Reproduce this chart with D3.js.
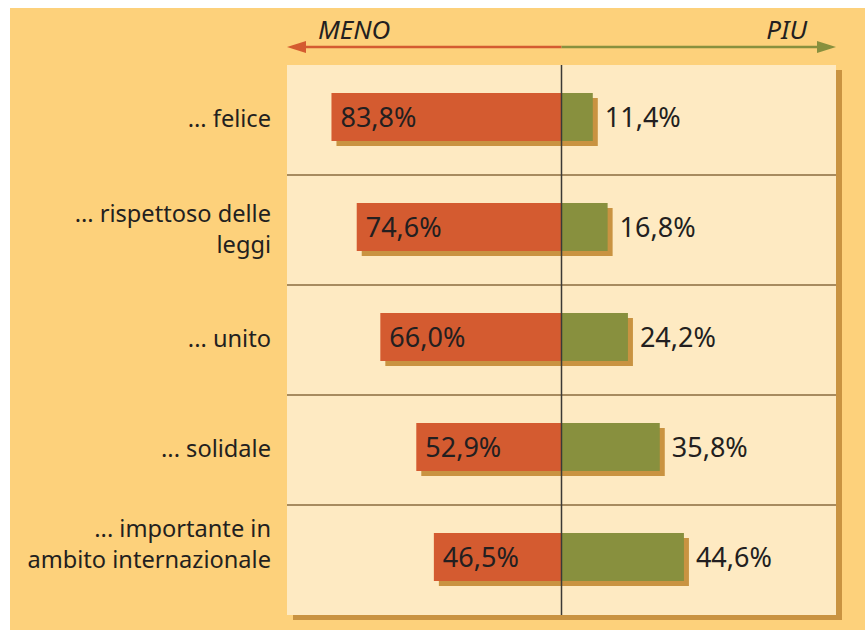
<!DOCTYPE html>
<html>
<head>
<meta charset="utf-8">
<script src="https://cdn.jsdelivr.net/npm/d3@7"></script>
<style>
  html, body { margin: 0; padding: 0; background: #ffffff; }
  svg { display: block; }
</style>
</head>
<body>
<div id="chart"></div>
<script>
// Dati
const categories = [
  ["... felice"],
  ["... rispettoso delle", "leggi"],
  ["... unito"],
  ["... solidale"],
  ["... importante in", "ambito internazionale"]
]
const meno = [83.8, 74.6, 66.0, 52.9, 46.5]
const piu = [11.4, 16.8, 24.2, 35.8, 44.6]

const width = 865, height = 630
const fmt = v => d3.format(".1f")(v).replace(".", ",") + "%"

const svg = d3.select("#chart")
  .append("svg")
  .attr("width", width)
  .attr("height", height)
  .style("font-family", "'Noto Sans', sans-serif")

// Sfondo
svg.append("rect")
  .attr("x", 10).attr("y", 8)
  .attr("width", width - 10).attr("height", height - 8)
  .attr("fill", "#fdd17b")

const panel = { left: 287, right: 836, top: 65, bottom: 615 }

// Scale
const x = d3.scaleLinear().domain([-100, 100]).range([panel.left, panel.right])
const y = d3.scaleBand()
  .domain(d3.range(categories.length))
  .range([panel.top, panel.bottom])

const barH = 48
const barTop = i => y(i) + 28
const shadow = "#c99341"
// l'ultima etichetta nel riferimento sta un po' più in alto
const labelShift = i => (i === categories.length - 1 ? -15 : 0)

// Pannello + ombra
svg.append("rect")
  .attr("x", panel.left + 6).attr("y", panel.top + 5)
  .attr("width", panel.right - panel.left).attr("height", panel.bottom - panel.top)
  .attr("fill", shadow)
svg.append("rect")
  .attr("x", panel.left).attr("y", panel.top)
  .attr("width", panel.right - panel.left).attr("height", panel.bottom - panel.top)
  .attr("fill", "#feeac2")

// Separatori
svg.selectAll("line.sep")
  .data(d3.range(1, categories.length))
  .join("line")
  .attr("class", "sep")
  .attr("x1", panel.left).attr("x2", panel.right)
  .attr("y1", d => y(d)).attr("y2", d => y(d))
  .attr("stroke", "#8a6b3e")
  .attr("stroke-width", 1.6)

// Freccia MENO / PIU
const arrowY = 47
svg.append("line")
  .attr("x1", panel.left + 14).attr("x2", x(0))
  .attr("y1", arrowY).attr("y2", arrowY)
  .attr("stroke", "#d45b30").attr("stroke-width", 2.5)
svg.append("line")
  .attr("x1", x(0)).attr("x2", panel.right - 14)
  .attr("y1", arrowY).attr("y2", arrowY)
  .attr("stroke", "#88903e").attr("stroke-width", 2.5)
svg.append("path")
  .attr("d", `M${panel.left},${arrowY} L${panel.left + 19},${arrowY - 6} L${panel.left + 19},${arrowY + 6} Z`)
  .attr("fill", "#d45b30")
svg.append("path")
  .attr("d", `M${panel.right},${arrowY} L${panel.right - 19},${arrowY - 6} L${panel.right - 19},${arrowY + 6} Z`)
  .attr("fill", "#88903e")

svg.append("text")
  .attr("x", 318).attr("y", 39)
  .attr("font-size", 26).attr("font-style", "italic")
  .attr("fill", "#231f20")
  .text("MENO")
svg.append("text")
  .attr("x", 807).attr("y", 39)
  .attr("text-anchor", "end")
  .attr("font-size", 26).attr("font-style", "italic")
  .attr("fill", "#231f20")
  .text("PIU")

// Barre
const rows = svg.selectAll("g.row")
  .data(categories.map((c, i) => ({ c, i, m: meno[i], p: piu[i] })))
  .join("g")
  .attr("class", "row")

rows.append("rect")
  .attr("x", d => x(-d.m) + 5)
  .attr("y", d => barTop(d.i) + 5)
  .attr("width", d => x(d.p) - x(-d.m))
  .attr("height", barH)
  .attr("fill", shadow)

rows.append("rect")
  .attr("x", d => x(-d.m))
  .attr("y", d => barTop(d.i))
  .attr("width", d => x(0) - x(-d.m))
  .attr("height", barH)
  .attr("fill", "#d45b30")

rows.append("rect")
  .attr("x", x(0))
  .attr("y", d => barTop(d.i))
  .attr("width", d => x(d.p) - x(0))
  .attr("height", barH)
  .attr("fill", "#88903e")

rows.append("text")
  .attr("x", d => x(-d.m) + 9)
  .attr("y", d => barTop(d.i) + barH / 2 + 10)
  .attr("font-size", 27)
  .attr("fill", "#231f20")
  .text(d => fmt(d.m))

rows.append("text")
  .attr("x", d => x(d.p) + 12)
  .attr("y", d => barTop(d.i) + barH / 2 + 10)
  .attr("font-size", 27)
  .attr("fill", "#231f20")
  .text(d => fmt(d.p))

// Etichette categorie
rows.append("text")
  .attr("text-anchor", "end")
  .attr("font-size", 23.6)
  .attr("fill", "#231f20")
  .each(function(d) {
    const n = d.c.length
    const cy = barTop(d.i) + barH / 2 + 10 + labelShift(d.i)
    d3.select(this).selectAll("tspan")
      .data(d.c)
      .join("tspan")
      .attr("x", 271)
      .attr("y", (t, k) => cy + (k - (n - 1) / 2) * 31)
      .text(t => t)
  })

// Linea centrale
svg.append("line")
  .attr("x1", x(0)).attr("x2", x(0))
  .attr("y1", panel.top).attr("y2", panel.bottom)
  .attr("stroke", "#3b3935")
  .attr("stroke-width", 1.5)
</script>
</body>
</html>
